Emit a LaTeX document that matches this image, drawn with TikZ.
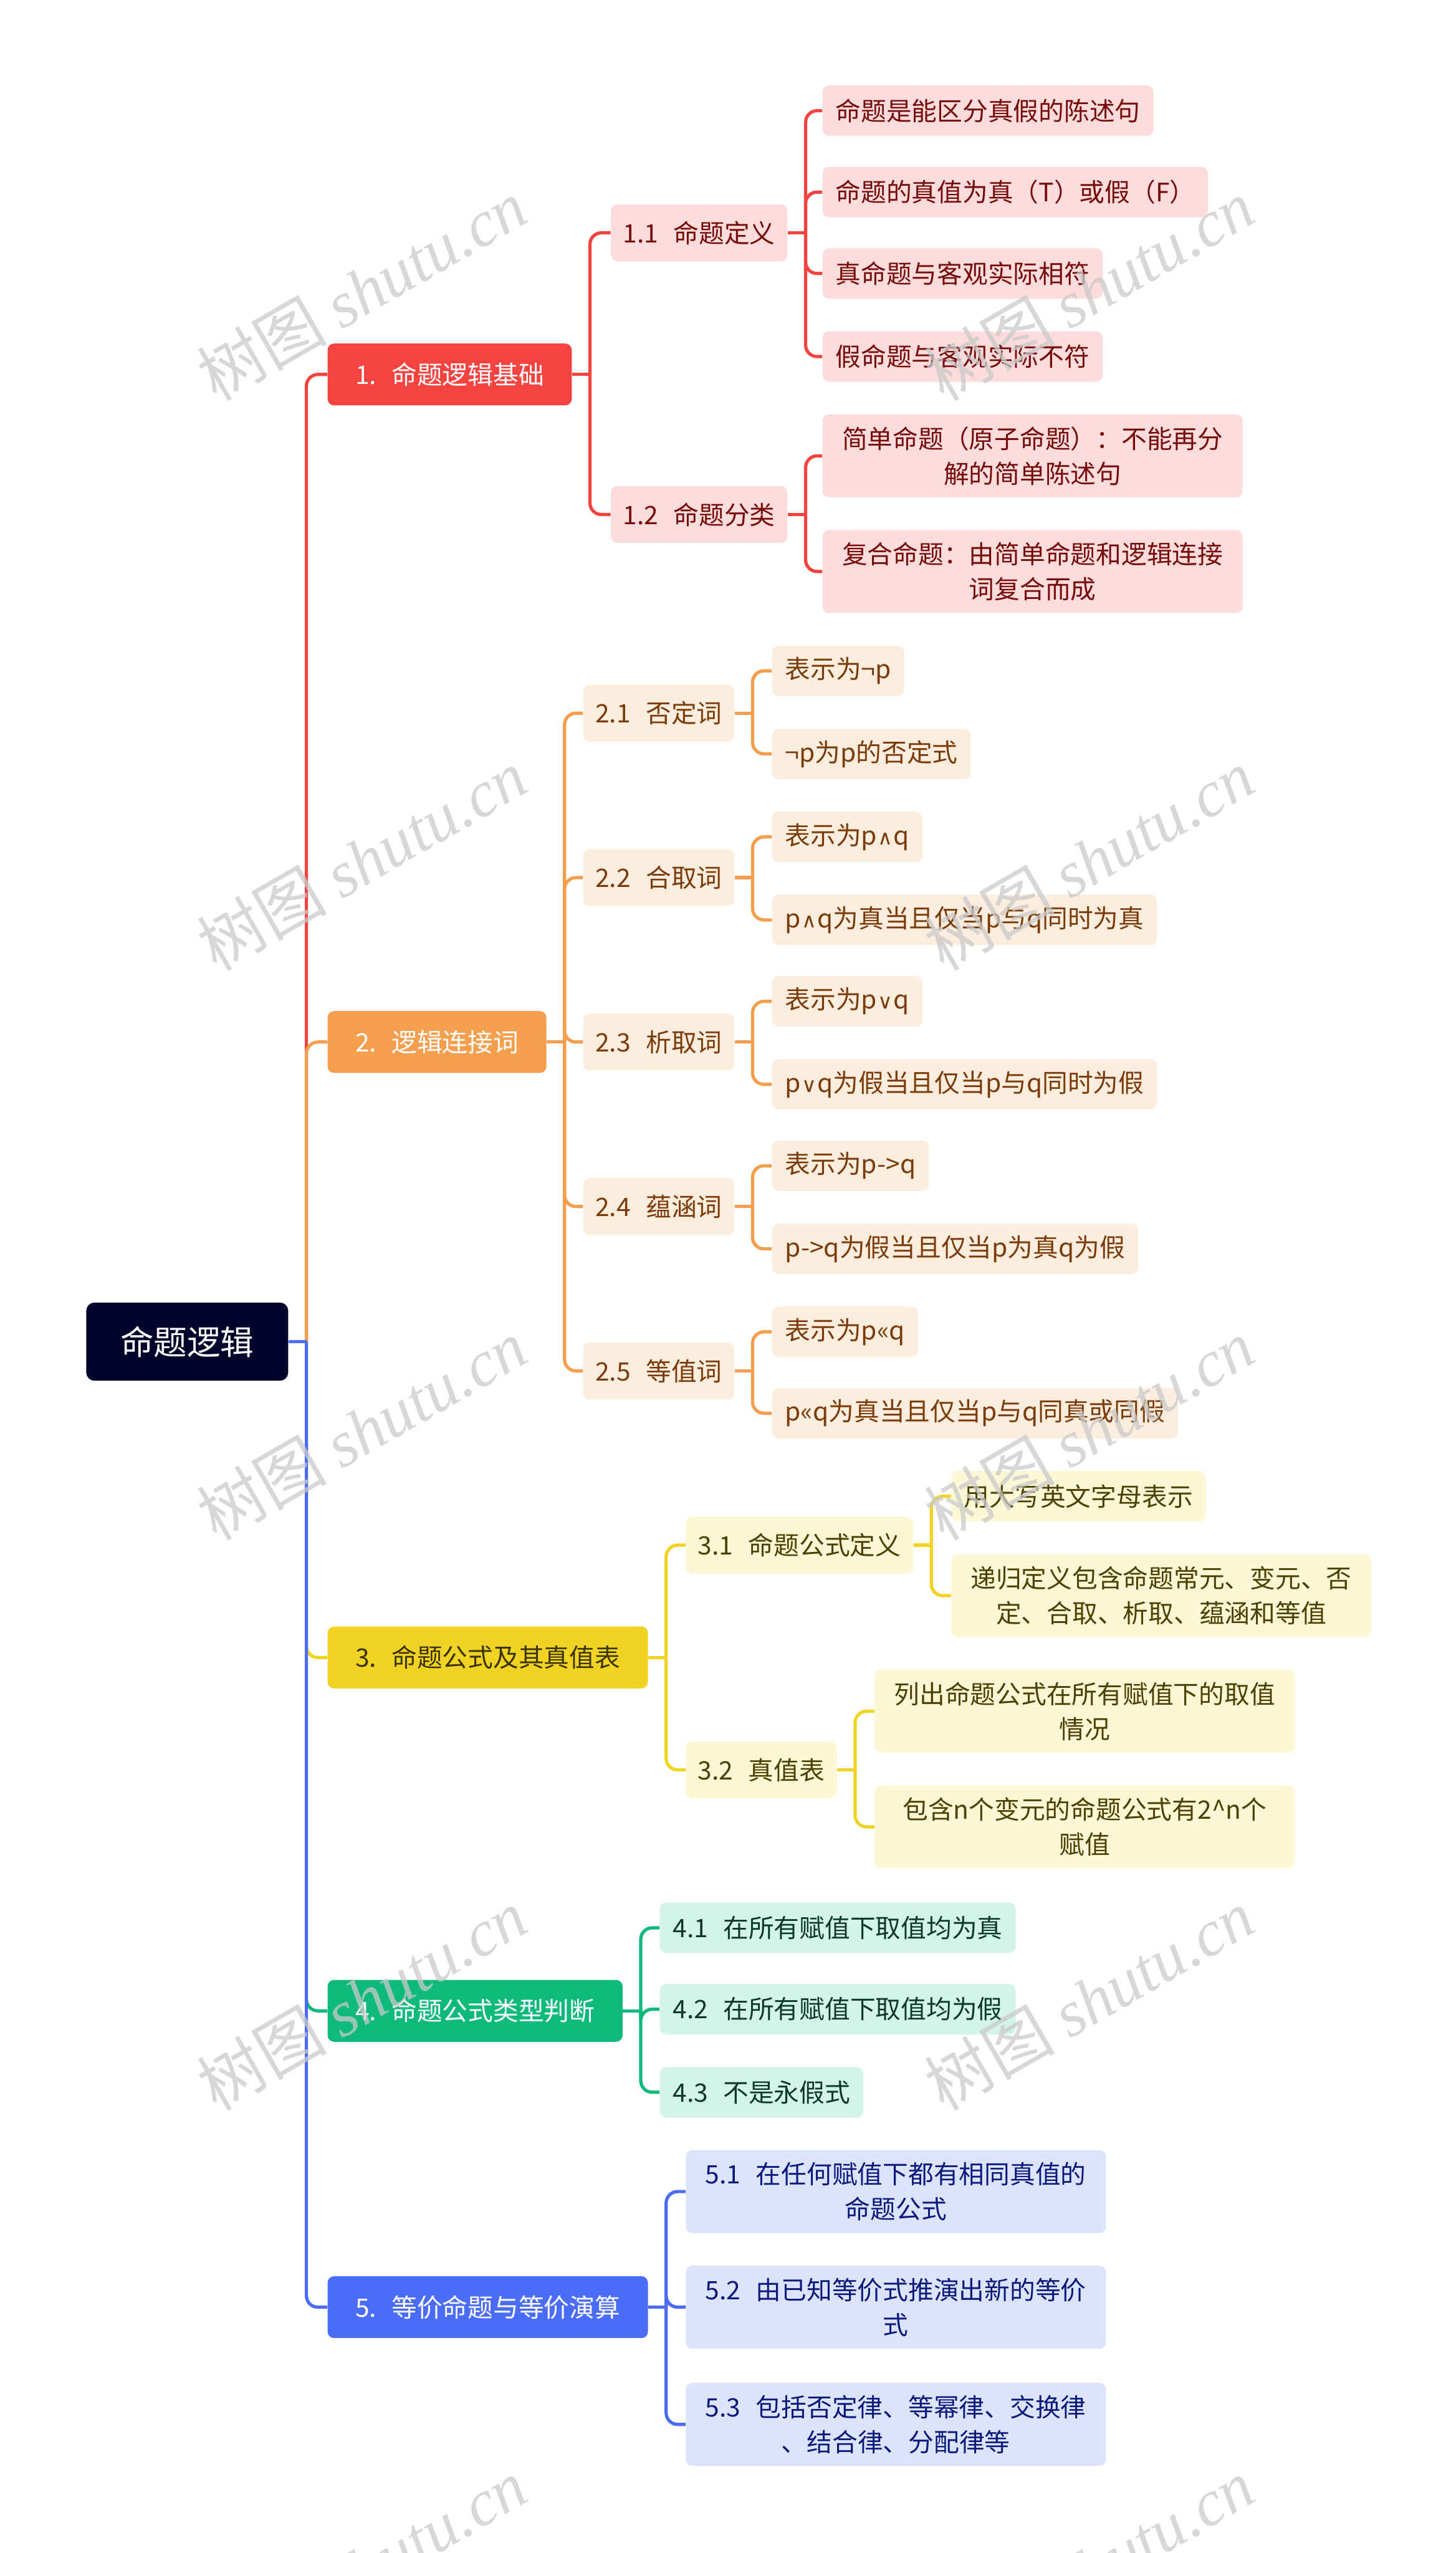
\documentclass[tikz,border=0pt]{standalone}
\usepackage{fontspec}
\setmainfont{Noto Sans CJK SC}
\newfontfamily\symfont{DejaVu Sans}
\newfontfamily\markfont{Liberation Serif}
\usetikzlibrary{positioning}
\definecolor{rootnavy}{HTML}{02032B}
\definecolor{redtone}{HTML}{F5443F}
\definecolor{redpaper}{HTML}{FDDCDB}
\definecolor{redink}{HTML}{760B0B}
\definecolor{orangetone}{HTML}{F59E4E}
\definecolor{orangepaper}{HTML}{FDEDDE}
\definecolor{orangeink}{HTML}{7A3B08}
\definecolor{yellowtone}{HTML}{F1D423}
\definecolor{yellowpaper}{HTML}{FDF7D6}
\definecolor{yellowink}{HTML}{4A4000}
\definecolor{greentone}{HTML}{0DBA7B}
\definecolor{greenpaper}{HTML}{D3F4E7}
\definecolor{greenink}{HTML}{0B3A2A}
\definecolor{bluetone}{HTML}{4A6CF7}
\definecolor{bluepaper}{HTML}{DCE3FD}
\definecolor{blueink}{HTML}{0B1A7A}
\definecolor{markgray}{HTML}{CACACA}
\newcommand{\sep}{\hspace{0.6em}}
\newcommand{\andsym}{{\hspace{0.5pt}\symfont\fontsize{12.5}{12}\selectfont ∧\hspace{0.5pt}}}
\newcommand{\orsym}{{\hspace{0.5pt}\symfont\fontsize{12.5}{12}\selectfont ∨\hspace{0.5pt}}}
\tikzset{rootbox/.style={fill=rootnavy,text=white,rounded corners=5pt,font=\fontsize{20.5}{24}\selectfont,inner xsep=21pt,inner ysep=0pt,minimum height=48pt},mainbox/.style={rounded corners=4pt,font=\fontsize{15.6}{21.5}\selectfont,inner xsep=17pt,inner ysep=0pt,minimum height=38pt,anchor=west},subbox/.style={mainbox,inner xsep=7.5pt,minimum height=35pt},leafbox/.style={mainbox,inner xsep=8pt,minimum height=31pt},twoline/.style={leafbox,align=center,minimum width=258pt,minimum height=51pt},redleaf/.style={fill=redpaper,text=redink},orangeleaf/.style={fill=orangepaper,text=orangeink},yellowleaf/.style={fill=yellowpaper,text=yellowink},greenleaf/.style={fill=greenpaper,text=greenink},blueleaf/.style={fill=bluepaper,text=blueink},link/.style={line width=2pt,rounded corners=7pt},watermark/.style={text=markgray,opacity=.75,rotate=30,font=\fontsize{40}{40}\selectfont}}

\begin{document}
\begin{tikzpicture}[x=1pt,y=-1pt]
\useasboundingbox (0,0) rectangle (894,1568);
\node[rootbox] (root) at (115,824) {命题逻辑};
% main topics
\node[mainbox,fill=redtone,text=white] (m1) at (201,230) {1.\sep{}命题逻辑基础};
\node[mainbox,fill=orangetone,text=white] (m2) at (201,640) {2.\sep{}逻辑连接词};
\node[mainbox,fill=yellowtone,text=yellowink!80!black] (m3) at (201,1018) {3.\sep{}命题公式及其真值表};
\node[mainbox,fill=greentone,text=white] (m4) at (201,1235) {4.\sep{}命题公式类型判断};
\node[mainbox,fill=bluetone,text=white] (m5) at (201,1417) {5.\sep{}等价命题与等价演算};
% branch 1
\node[subbox,redleaf] (s11) at (375,143) {1.1\sep{}命题定义};
\node[subbox,redleaf] (s12) at (375,316) {1.2\sep{}命题分类};
\node[leafbox,redleaf] (l111) at (505,68) {命题是能区分真假的陈述句};
\node[leafbox,redleaf] (l112) at (505,118) {命题的真值为真（T）或假（F）};
\node[leafbox,redleaf] (l113) at (505,168) {真命题与客观实际相符};
\node[leafbox,redleaf] (l114) at (505,219) {假命题与客观实际不符};
\node[twoline,redleaf] (l121) at (505,280) {简单命题（原子命题）：不能再分\\解的简单陈述句};
\node[twoline,redleaf] (l122) at (505,351) {复合命题：由简单命题和逻辑连接\\词复合而成};
% branch 2
\foreach \i/\txt/\y in {1/否定词/438,2/合取词/539,3/析取词/640,4/蕴涵词/741,5/等值词/842}
  \node[subbox,orangeleaf] (s2\i) at (358,\y) {2.\i\sep{}\txt};
\node[leafbox,orangeleaf] (l211) at (474,412) {表示为¬p};
\node[leafbox,orangeleaf] (l212) at (474,463) {¬p为p的否定式};
\node[leafbox,orangeleaf] (l221) at (474,514) {表示为p\andsym{}q};
\node[leafbox,orangeleaf] (l222) at (474,565) {p\andsym{}q为真当且仅当p与q同时为真};
\node[leafbox,orangeleaf] (l231) at (474,615) {表示为p\orsym{}q};
\node[leafbox,orangeleaf] (l232) at (474,666) {p\orsym{}q为假当且仅当p与q同时为假};
\node[leafbox,orangeleaf] (l241) at (474,716) {表示为p->q};
\node[leafbox,orangeleaf] (l242) at (474,767) {p->q为假当且仅当p为真q为假};
\node[leafbox,orangeleaf] (l251) at (474,818) {表示为p«q};
\node[leafbox,orangeleaf] (l252) at (474,868) {p«q为真当且仅当p与q同真或同假};
% branch 3
\node[subbox,yellowleaf] (s31) at (421,949) {3.1\sep{}命题公式定义};
\node[subbox,yellowleaf] (s32) at (421,1087) {3.2\sep{}真值表};
\node[leafbox,yellowleaf] (l311) at (584,919) {用大写英文字母表示};
\node[twoline,yellowleaf] (l312) at (584,980) {递归定义包含命题常元、变元、否\\定、合取、析取、蕴涵和等值};
\node[twoline,yellowleaf] (l321) at (537,1051) {列出命题公式在所有赋值下的取值\\情况};
\node[twoline,yellowleaf] (l322) at (537,1122) {包含n个变元的命题公式有2\textasciicircum{}n个\\赋值};
% branch 4
\node[leafbox,greenleaf] (s41) at (405,1184) {4.1\sep{}在所有赋值下取值均为真};
\node[leafbox,greenleaf] (s42) at (405,1234) {4.2\sep{}在所有赋值下取值均为假};
\node[leafbox,greenleaf] (s43) at (405,1285) {4.3\sep{}不是永假式};
% branch 5
\node[twoline,blueleaf] (s51) at (421,1346) {5.1\sep{}在任何赋值下都有相同真值的\\命题公式};
\node[twoline,blueleaf] (s52) at (421,1417) {5.2\sep{}由已知等价式推演出新的等价\\式};
\node[twoline,blueleaf] (s53) at (421,1489) {5.3\sep{}包括否定律、等幂律、交换律\\、结合律、分配律等};
% connectors
\path (root.east) ++(11,0) coordinate (t0);
\foreach \m/\col in {m1/redtone,m2/orangetone,m3/yellowtone,m4/greentone,m5/bluetone}
  \draw[link,\col] (t0) |- (\m.west);
\draw[link,bluetone] (root.east) -- (t0);
\foreach \p/\col/\kids in {m1/redtone/{s11,s12},s11/redtone/{l111,l112,l113,l114},s12/redtone/{l121,l122},m2/orangetone/{s21,s22,s23,s24,s25},s21/orangetone/{l211,l212},s22/orangetone/{l221,l222},s23/orangetone/{l231,l232},s24/orangetone/{l241,l242},s25/orangetone/{l251,l252},m3/yellowtone/{s31,s32},s31/yellowtone/{l311,l312},s32/yellowtone/{l321,l322},m4/greentone/{s41,s42,s43},m5/bluetone/{s51,s52,s53}}{
  \path (\p.east) ++(11,0) coordinate (t\p);
  \draw[link,\col] (\p.east) -- (t\p);
  \foreach \c in \kids \draw[link,\col] (t\p) |- (\c.west);
}
% watermarks
\begin{scope}
\clip (0,0) rectangle (894,1568);
\foreach \wy in {178,528,878,1228,1578}
  \foreach \wx in {222,669}
    \node[watermark] at (\wx,\wy) {树图 {\markfont\itshape shutu.cn}};
\end{scope}
\end{tikzpicture}
\end{document}
